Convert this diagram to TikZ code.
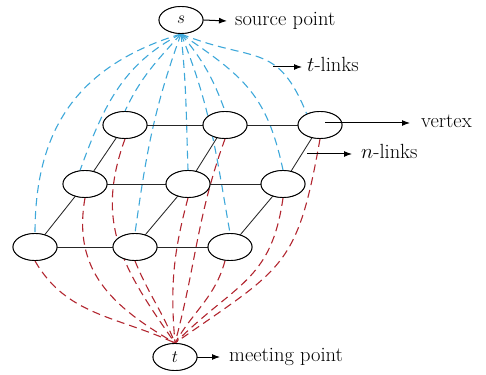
\documentclass[tikz,border=0pt]{standalone}
\usetikzlibrary{arrows.meta,shapes.geometric}
\definecolor{tblue}{RGB}{62,168,218}
\definecolor{tred}{RGB}{178,38,48}
\begin{document}
\begin{tikzpicture}[x=1pt,y=1pt,
  vtx/.style={ellipse, draw, line width=0.9pt, fill=white, minimum width=44pt,
    minimum height=27pt, inner sep=0pt, font=\fontsize{19}{22}\selectfont},
  nlink/.style={line width=0.85pt, black!85},
  srclink/.style={line width=1.1pt, tblue, dash pattern=on 8pt off 5pt},
  sinklink/.style={line width=1.1pt, tred, dash pattern=on 8pt off 5pt},
  callout/.style={-{Latex[length=8pt,width=6pt]}, line width=1pt},
  lbl/.style={anchor=base west, inner sep=0pt, font=\fontsize{20.5}{24}\selectfont}
]
\useasboundingbox (0,0) rectangle (486,374);

% terminal nodes
\node[vtx] (s) at (181,354) {$s$};
\node[vtx] (t) at (175,17) {$t$};

% 3x3 grid of vertices (drawn in perspective)
\node[vtx] (TL) at (125,249) {};
\node[vtx] (TM) at (225,249) {};
\node[vtx] (TR) at (320,249) {};
\node[vtx] (ML) at (85,190) {};
\node[vtx] (MM) at (188,190) {};
\node[vtx] (MR) at (283,190) {};
\node[vtx] (BL) at (35,127) {};
\node[vtx] (BM) at (135,127) {};
\node[vtx] (BR) at (230,127) {};

% t-links from the source
\begin{scope}[on background layer/.style={}]
\draw[srclink] (s.south) to[out=197,in=90,looseness=1.1] (BL.north);
\draw[srclink] (s.south) to[out=207,in=70] (ML.110);
\draw[srclink] (s.south) to[out=228,in=65] (TL.north);
\draw[srclink] (s.south) to[out=250,in=82] (BM.north);
\draw[srclink] (s.south) to[out=276,in=92] (MM.north);
\draw[srclink] (s.south) to[out=292,in=100] (BR.north);
\draw[srclink] (s.south) to[out=310,in=110] (TM.north);
\draw[srclink] (s.south) to[out=326,in=102,looseness=1.15] (MR.north);
\draw[srclink] (s.south) to[out=338,in=112,looseness=1.35] (TR.140);

% t-links to the sink
\draw[sinklink] (BL.south) to[out=300,in=155] (t.north);
\draw[sinklink] (BM.south) to[out=292,in=112] (t.north);
\draw[sinklink] (BR.250) to[out=255,in=60] (t.north);
\draw[sinklink] (ML.south) to[out=260,in=150,looseness=1.1] (t.north);
\draw[sinklink] (TL.south) to[out=250,in=125,looseness=1.1] (t.north);
\draw[sinklink] (MM.south) to[out=255,in=95] (t.north);
\draw[sinklink] (TM.south) to[out=250,in=75] (t.north);
\draw[sinklink] (MR.south) to[out=262,in=45,looseness=1.2] (t.north);
\draw[sinklink] (TR.south) to[out=260,in=35,looseness=1.35] (t.north);
\end{scope}

% n-links between neighbouring vertices
\draw[nlink] (TL) -- (TM) (TM) -- (TR);
\draw[nlink] (ML) -- (MM) (MM) -- (MR);
\draw[nlink] (BL) -- (BM) (BM) -- (BR);
\draw[nlink] (BL) -- (ML) (ML) -- (TL);
\draw[nlink] (BM) -- (MM) (MM) -- (TM);
\draw[nlink] (BR) -- (MR) (MR) -- (TR);

% redraw the vertices on top of the links
\foreach \v in {s,t,TL,TM,TR,ML,MM,MR,BL,BM,BR}{
  \draw[line width=0.9pt, fill=white] (\v.center) ellipse [x radius=22pt, y radius=13.5pt];
}
\node[font=\fontsize{19}{22}\selectfont] at (s.center) {$s$};
\node[font=\fontsize{19}{22}\selectfont] at (t.center) {$t$};

% callouts
\coordinate (srcend) at (227,353);
\coordinate (tlA) at (273,307);
\coordinate (tlB) at (302,307);
\coordinate (vxA) at (325,251);
\coordinate (vxB) at (410,251);
\coordinate (nlA) at (307,220);
\coordinate (nlB) at (352,220);
\coordinate (snkend) at (220,17);

\draw[callout] (s.east) -- (srcend);
\draw[callout] (tlA) -- (tlB);
\draw[callout] (vxA) -- (vxB);
\draw[callout] (nlA) -- (nlB);
\draw[callout] (t.east) -- (snkend);

\node[lbl] (srclbl) at (235,348.6) {source point};
\node[lbl] (tllbl) at (307,302.6) {$t$-links};
\node[lbl] (vxlbl) at (421,246.6) {vertex};
\node[lbl] (nllbl) at (361,215.6) {$n$-links};
\node[lbl] (snklbl) at (229,12.6) {meeting point};
\end{tikzpicture}
\end{document}
